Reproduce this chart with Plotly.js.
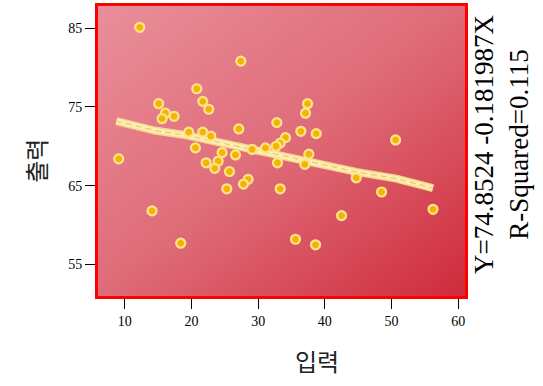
<!DOCTYPE html>
<html>
<head>
<meta charset="utf-8">
<script src="https://cdn.plot.ly/plotly-3.0.1.min.js"></script>
<style>html,body{margin:0;padding:0;background:#fff;}#chart{width:543px;height:386px;}</style>
</head>
<body>
<div id="chart"></div>
<script>
// Scatter data: 입력 (x) vs 출력 (y)
const inputX = [12.25, 27.4, 20.8, 21.7, 22.6, 15.1, 16.1, 17.4, 15.6, 37.4, 37.1, 27.1, 32.8, 36.4, 38.7,
  19.6, 21.7, 22.9, 9.1, 20.6, 24.6, 26.6, 22.2, 24.0, 23.5, 25.7, 28.5, 27.8, 25.3, 33.3,
  32.9, 37.6, 37.0, 31.1, 29.1, 34.1, 33.3, 32.7, 50.6, 44.7, 48.5, 56.2, 42.5, 14.1, 18.4,
  35.6, 38.6];
const outputY = [85.1, 80.8, 77.3, 75.7, 74.7, 75.4, 74.2, 73.8, 73.5, 75.4, 74.2, 72.2, 73.0, 71.9, 71.6,
  71.8, 71.8, 71.3, 68.4, 69.8, 69.2, 68.9, 67.9, 68.1, 67.2, 66.8, 65.8, 65.2, 64.6, 64.6,
  67.9, 69.0, 67.7, 69.8, 69.6, 71.1, 70.4, 70.0, 70.8, 66.0, 64.2, 62.0, 61.2, 61.8, 57.7,
  58.2, 57.5];
// Fit line
const fitX = [8.75, 14.5, 19.25, 26.2, 32.7, 39.2, 44.7, 50.7, 56.2];
const fitY = [73.2, 72.0, 71.4, 70.1, 69.0, 67.8, 66.75, 65.9, 64.7];
const xTicks = [10, 20, 30, 40, 50, 60];
const yTicks = [55, 65, 75, 85];
const xTitle = '입력';
const yTitle = '출력';
const eqLines = ['Y=74.8524 -0.181987X', 'R-Squared=0.115'];

const svg = '<svg xmlns="http://www.w3.org/2000/svg" width="100" height="100" preserveAspectRatio="none">' +
  '<defs><linearGradient id="g" x1="0" y1="0" x2="1" y2="1">' +
  '<stop offset="0" stop-color="#e98f9a"/><stop offset="0.5" stop-color="#df6b78"/><stop offset="1" stop-color="#cf2b3b"/>' +
  '</linearGradient></defs><rect width="100" height="100" fill="url(#g)"/></svg>';
const bg = 'data:image/svg+xml;base64,' + btoa(svg);

const serif = 'Liberation Serif, Times New Roman, serif';
const cjk = 'Noto Sans CJK KR, sans-serif';

const traces = [
  {x: fitX, y: fitY, mode: 'lines', line: {color: '#f7d88a', width: 8}, hoverinfo: 'skip', showlegend: false},
  {x: fitX, y: fitY, mode: 'lines', line: {color: '#fdeeb8', width: 5}, hoverinfo: 'skip', showlegend: false},
  {x: fitX, y: fitY, mode: 'lines', line: {color: '#f0c766', width: 1.2, dash: '6px,4px'}, hoverinfo: 'skip', showlegend: false},
  {x: inputX, y: outputY, mode: 'markers', type: 'scatter',
   marker: {size: 9, color: '#f6b400', line: {color: '#fde38e', width: 2.2}}, showlegend: false}
];

const layout = {
  width: 543, height: 386,
  margin: {l: 98, r: 78, t: 6, b: 90},
  paper_bgcolor: '#ffffff',
  plot_bgcolor: 'rgba(0,0,0,0)',
  images: [{source: bg, xref: 'paper', yref: 'paper', x: 0, y: 1, sizex: 1, sizey: 1,
            sizing: 'stretch', xanchor: 'left', yanchor: 'top', layer: 'below'}],
  xaxis: {
    range: [6, 61], tickvals: xTicks, ticktext: xTicks.map(String),
    showgrid: false, zeroline: false,
    ticks: 'outside', ticklen: 10, tickcolor: '#000', tickwidth: 1,
    showline: true, linecolor: '#ff0000', linewidth: 3, mirror: true,
    tickfont: {family: serif, size: 14, color: '#000'}
  },
  yaxis: {
    range: [51, 87.8], tickvals: yTicks, ticktext: yTicks.map(String),
    showgrid: false, zeroline: false,
    ticks: 'outside', ticklen: 10, tickcolor: '#000', tickwidth: 1,
    showline: true, linecolor: '#ff0000', linewidth: 3, mirror: true,
    tickfont: {family: serif, size: 14, color: '#000'}
  },
  annotations: [
    {xref: 'paper', yref: 'paper', x: 1, xshift: 36, y: 0.5, yshift: 6, xanchor: 'center', yanchor: 'middle',
     text: eqLines.join('<br>'), textangle: -90, showarrow: false,
     font: {family: serif, size: 27, color: '#000'}},
    {xref: 'paper', yref: 'paper', x: 0.597, y: -0.224, xanchor: 'center', yanchor: 'middle',
     text: xTitle, showarrow: false, font: {family: cjk, size: 24, color: '#222'}},
    {xref: 'paper', yref: 'paper', x: -0.169, y: 0.466, xanchor: 'center', yanchor: 'middle',
     text: yTitle, textangle: -90, showarrow: false, font: {family: cjk, size: 24, color: '#222'}}
  ]
};

Plotly.newPlot('chart', traces, layout, {displayModeBar: false, staticPlot: true});
</script>
</body>
</html>
